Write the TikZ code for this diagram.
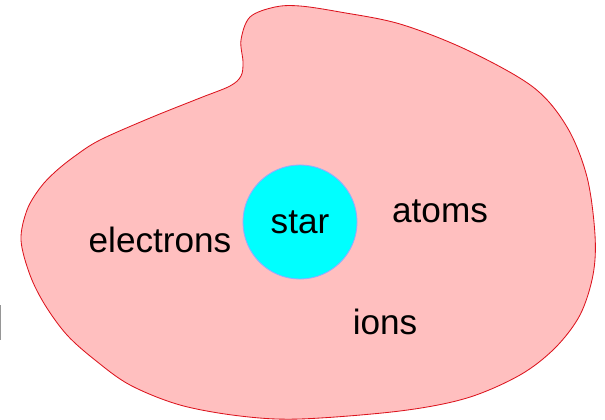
\documentclass[tikz,border=0pt]{standalone}
\usepackage{fontspec}
\setmainfont{Liberation Sans}
\usepackage{xcolor}
\usepackage{tikz}
\definecolor{cloudpink}{RGB}{255,191,191}
\definecolor{cloudred}{RGB}{220,20,30}
\definecolor{starcyan}{RGB}{0,255,255}
\definecolor{starrim}{RGB}{150,170,255}
\definecolor{edgegray}{RGB}{150,150,150}
\tikzset{
  cloud/.style={fill=cloudpink, draw=cloudred, line width=0.6pt},
  starball/.style={circle, fill=starcyan, draw=starrim, line width=0.6pt,
    minimum size=2.85cm, inner sep=0pt, font=\fontsize{25}{30}\selectfont},
  species/.style={font=\fontsize{25}{30}\selectfont, inner sep=0pt},
}

\begin{document}
\begin{tikzpicture}[x=0.025cm, y=-0.025cm]
  \useasboundingbox (0,0) rectangle (605,420);
  % the gas cloud
  \draw[cloud] plot[smooth cycle, tension=0.55] coordinates {
    (243,62) (241,40) (250,17) (275,7) (300,6) (340,12) (400,24) (467,50)
    (533,87) (567,127) (587,177) (595,235) (593,275) (580,315) (555,348)
    (520,375) (467,398) (400,411) (300,419) (240,416) (180,405) (130,385)
    (95,360) (67,335) (45,305) (30,275) (21,240) (27,210) (40,188)
    (55,172) (75,156) (100,140) (150,118) (200,98) (230,86) (241,76)};
  \draw[edgegray, line width=0.8pt] (0.5,305) -- (0.5,340);
  \node[starball] (star) at (300,222) {star};
  \node[species] (electrons) at (160,240) {electrons};
  \node[species] (atoms) at (440,211) {atoms};
  \node[species] (ions) at (385,322) {ions};
\end{tikzpicture}
\end{document}
